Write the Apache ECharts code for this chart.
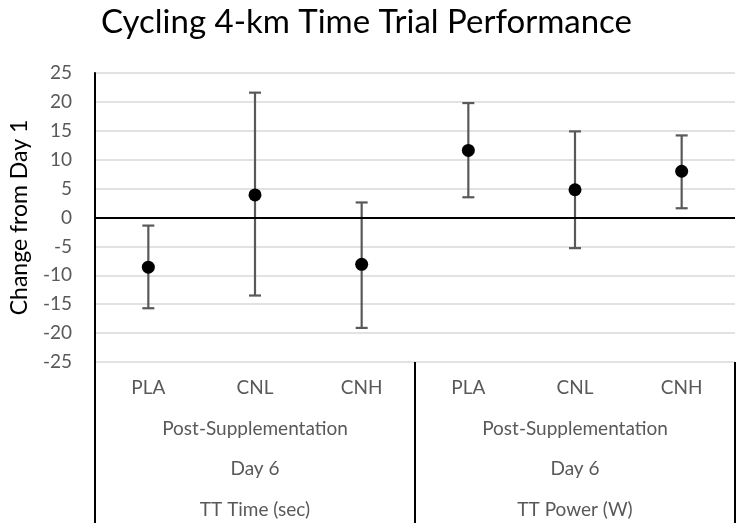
<!DOCTYPE html>
<html><head><meta charset="utf-8">
<script src="https://cdn.jsdelivr.net/npm/echarts@6/dist/echarts.min.js"></script>
<style>html,body{margin:0;padding:0;background:#fff}#c{width:746px;height:531px}</style>
</head><body><div id="c"></div>
<script>
const categories = ['PLA','CNL','CNH','PLA','CNL','CNH'];
const phaseLabels = ['Post-Supplementation','Post-Supplementation'];
const dayLabels = ['Day 6','Day 6'];
const measureLabels = ['TT Time (sec)','TT Power (W)'];
const means = [-8.6, 3.9, -8.1, 11.6, 4.8, 8.0];
const lows = [-15.7, -13.5, -19.1, 3.5, -5.3, 1.6];
const highs = [-1.4, 21.6, 2.6, 19.8, 14.9, 14.2];
const yTicks = {min: -25, max: 25, interval: 5};

const FONT = 'Lato';
const chart = echarts.init(document.getElementById('c'));
const lblColor = '#595959';
const baseX = {type:'category', gridIndex:0, position:'bottom', axisLine:{show:false}, axisTick:{show:false}, splitLine:{show:false}};
const lbl = (m) => ({margin:m, color:lblColor, fontSize:19, fontFamily:FONT});
chart.setOption({
  animation:false,
  title:{text:'Cycling 4-km Time Trial Performance', left:96, top:1,
    textStyle:{fontFamily:FONT, fontSize:33, fontWeight:'normal', color:'#000'}},
  grid:{left:92, right:11, top:73, bottom:169},
  xAxis:[
    Object.assign({}, baseX, {data:categories, axisLabel:lbl(16)}),
    Object.assign({}, baseX, {data:phaseLabels, axisTick:{show:true, length:161, lineStyle:{color:'#000', width:2}},
      axisLabel:lbl(57)}),
    Object.assign({}, baseX, {data:dayLabels, axisLabel:lbl(97)}),
    Object.assign({}, baseX, {data:measureLabels, axisLabel:lbl(138)})
  ],
  yAxis:{type:'value', min:yTicks.min, max:yTicks.max, interval:yTicks.interval,
    name:'Change from Day 1', nameLocation:'middle', nameGap:64, nameRotate:90,
    nameTextStyle:{fontFamily:FONT, fontSize:23, color:'#000'},
    axisLine:{show:true, lineStyle:{color:'#000', width:2}}, axisTick:{show:false},
    axisLabel:{margin:23, color:lblColor, fontSize:19, fontFamily:FONT},
    splitLine:{lineStyle:{color:'#d9d9d9', width:1.5}}},
  series:[
    {type:'custom', xAxisIndex:0, renderItem:function(params, api){
        const x = api.value(0);
        const p1 = api.coord([x, api.value(1)]);
        const p2 = api.coord([x, api.value(2)]);
        const hw = 6;
        const st = {stroke:'#595959', lineWidth:2.2};
        return {type:'group', children:[
          {type:'line', shape:{x1:p1[0], y1:p1[1], x2:p2[0], y2:p2[1]}, style:st},
          {type:'line', shape:{x1:p1[0]-hw, y1:p1[1], x2:p1[0]+hw, y2:p1[1]}, style:st},
          {type:'line', shape:{x1:p2[0]-hw, y1:p2[1], x2:p2[0]+hw, y2:p2[1]}, style:st}
        ]};
      },
      data: categories.map((c,i)=>[i, lows[i], highs[i]]), z:2,
      markLine:{silent:true, symbol:'none', label:{show:false}, lineStyle:{color:'#000', width:2, type:'solid'}, data:[{yAxis:0}]}
    },
    {type:'scatter', xAxisIndex:0, symbol:'circle', symbolSize:13, itemStyle:{color:'#000', opacity:1},
      data: categories.map((c,i)=>[i, means[i]]), z:3}
  ]
});
</script></body></html>
